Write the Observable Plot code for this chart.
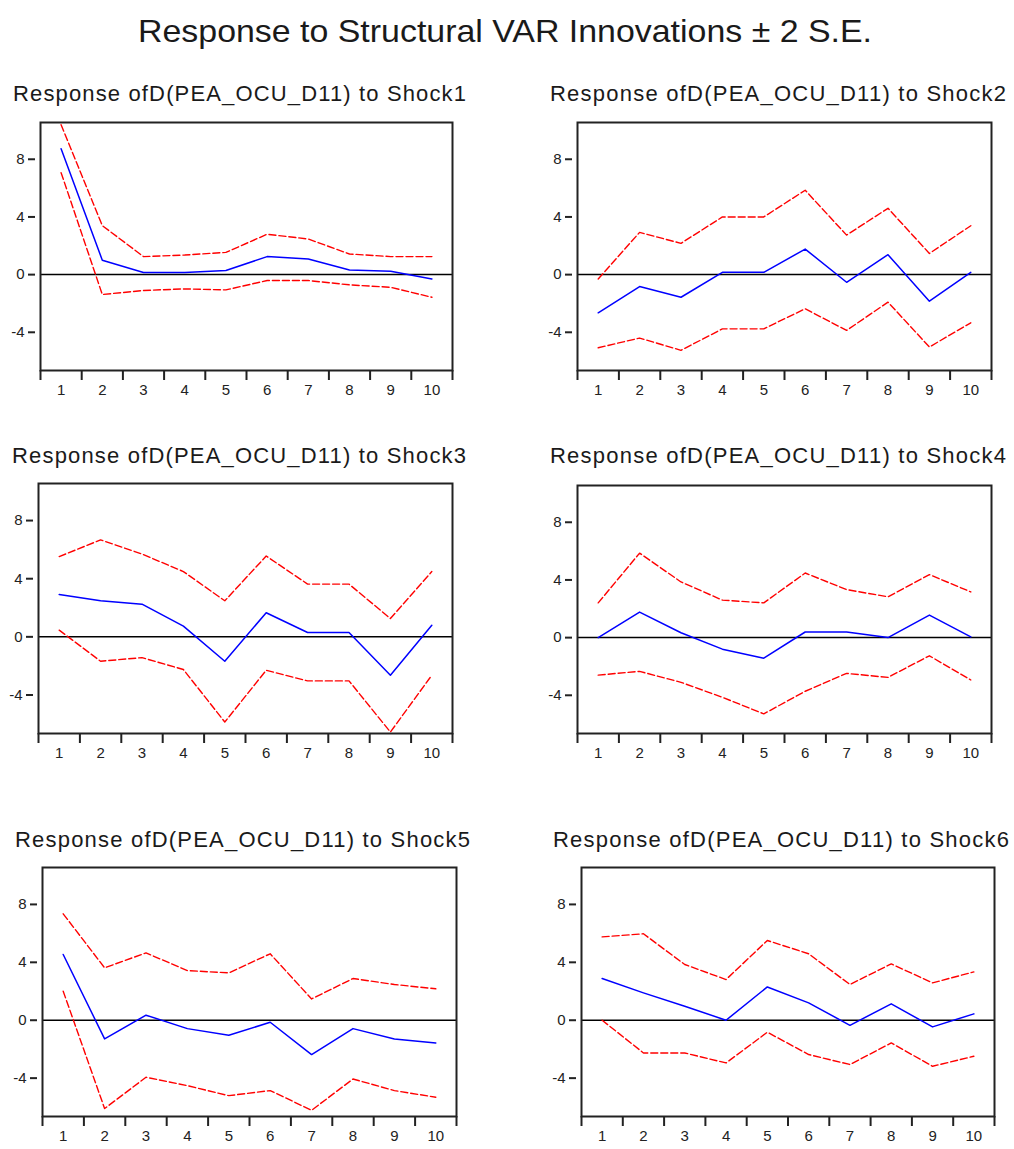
<!DOCTYPE html>
<html>
<head>
<meta charset="utf-8">
<script src="https://cdn.jsdelivr.net/npm/d3@7"></script>
<script src="https://cdn.jsdelivr.net/npm/@observablehq/plot@0.6"></script>
<style>
  html, body { margin: 0; padding: 0; background: #fff; }
  #chart { position: relative; width: 1014px; height: 1149px; background: #fff; overflow: hidden; }
  #chart .panel { position: absolute; }
  #chart svg.panel text { font-size: 15px !important; font-family: 'Liberation Sans', Arial, sans-serif; }
  #titles { position: absolute; left: 0; top: 0; pointer-events: none; }
</style>
</head>
<body>
<div id="chart"></div>
<script>
// ---- Data ----
const horizons = [1, 2, 3, 4, 5, 6, 7, 8, 9, 10];
const yTicks = [-4, 0, 4, 8];
const mainTitle = "Response to Structural VAR Innovations \u00b1 2 S.E.";
const panelTitles = [
  "Response ofD(PEA_OCU_D11) to Shock1",
  "Response ofD(PEA_OCU_D11) to Shock2",
  "Response ofD(PEA_OCU_D11) to Shock3",
  "Response ofD(PEA_OCU_D11) to Shock4",
  "Response ofD(PEA_OCU_D11) to Shock5",
  "Response ofD(PEA_OCU_D11) to Shock6"
];

const shock1Resp  = [8.73, 1.00, 0.15, 0.15, 0.28, 1.25, 1.08, 0.32, 0.23, -0.30];
const shock1Upper = [10.4, 3.40, 1.25, 1.36, 1.54, 2.80, 2.47, 1.43, 1.25, 1.25];
const shock1Lower = [7.07, -1.38, -1.10, -0.99, -1.06, -0.41, -0.41, -0.71, -0.88, -1.57];

const shock2Resp  = [-2.65, -0.83, -1.57, 0.16, 0.16, 1.77, -0.53, 1.38, -1.84, 0.16];
const shock2Upper = [-0.30, 2.93, 2.17, 4.00, 4.00, 5.85, 2.74, 4.60, 1.47, 3.39];
const shock2Lower = [-5.07, -4.40, -5.25, -3.76, -3.76, -2.37, -3.87, -1.91, -5.02, -3.34];

const shock3Resp  = [2.92, 2.48, 2.25, 0.74, -1.68, 1.66, 0.30, 0.30, -2.64, 0.80];
const shock3Upper = [5.52, 6.67, 5.70, 4.49, 2.48, 5.56, 3.63, 3.63, 1.26, 4.49];
const shock3Lower = [0.46, -1.68, -1.43, -2.25, -5.86, -2.30, -3.03, -3.03, -6.55, -2.64];

const shock4Resp  = [0.00, 1.77, 0.34, -0.80, -1.43, 0.39, 0.39, 0.00, 1.56, 0.05];
const shock4Upper = [2.41, 5.86, 3.86, 2.60, 2.41, 4.48, 3.33, 2.83, 4.37, 3.17];
const shock4Lower = [-2.60, -2.34, -3.10, -4.14, -5.29, -3.72, -2.48, -2.76, -1.26, -2.94];

const shock5Resp  = [4.54, -1.29, 0.35, -0.58, -1.04, -0.14, -2.37, -0.58, -1.29, -1.57];
const shock5Upper = [7.35, 3.62, 4.65, 3.43, 3.27, 4.59, 1.47, 2.88, 2.47, 2.17];
const shock5Lower = [2.00, -6.10, -3.94, -4.52, -5.21, -4.86, -6.22, -4.06, -4.86, -5.32];

const shock6Resp  = [2.88, 1.89, 0.97, 0.00, 2.30, 1.20, -0.35, 1.13, -0.46, 0.44];
const shock6Upper = [5.76, 5.97, 3.85, 2.81, 5.51, 4.59, 2.47, 3.89, 2.58, 3.34];
const shock6Lower = [0.00, -2.26, -2.26, -2.95, -0.83, -2.37, -3.06, -1.57, -3.18, -2.49];

// ---- Layout ----
const FONT = "'Liberation Sans', Arial, Helvetica, sans-serif";
const panels = [
  {title: panelTitles[0], resp: shock1Resp, upper: shock1Upper, lower: shock1Lower,
   left: 0, top: 110, width: 470, height: 300, mt: 12, mb: 40, ml: 40, mr: 18,
   tx: 13, ty: 101, tl: 453},
  {title: panelTitles[1], resp: shock2Resp, upper: shock2Upper, lower: shock2Lower,
   left: 510, top: 110, width: 504, height: 300, mt: 12, mb: 40, ml: 67, mr: 23,
   tx: 550, ty: 101, tl: 456},
  {title: panelTitles[2], resp: shock3Resp, upper: shock3Upper, lower: shock3Lower,
   left: 0, top: 470, width: 470, height: 300, mt: 13, mb: 37, ml: 38, mr: 18,
   tx: 12, ty: 463, tl: 454},
  {title: panelTitles[3], resp: shock4Resp, upper: shock4Upper, lower: shock4Lower,
   left: 510, top: 470, width: 504, height: 300, mt: 15, mb: 37, ml: 67, mr: 23,
   tx: 550, ty: 463, tl: 456},
  {title: panelTitles[4], resp: shock5Resp, upper: shock5Upper, lower: shock5Lower,
   left: 0, top: 855, width: 470, height: 294, mt: 12, mb: 33, ml: 42, mr: 14,
   tx: 15, ty: 847, tl: 455},
  {title: panelTitles[5], resp: shock6Resp, upper: shock6Upper, lower: shock6Lower,
   left: 510, top: 855, width: 504, height: 294, mt: 12, mb: 33, ml: 71, mr: 20,
   tx: 553, ty: 847, tl: 456}
];

const boundaries = [horizons[0] - 0.5, ...horizons.map(h => h + 0.5)];
const chart = document.getElementById("chart");

for (const p of panels) {
  const toRows = arr => horizons.map((h, i) => ({h, v: arr[i]}));
  const plot = Plot.plot({
    width: p.width,
    height: p.height,
    marginTop: p.mt,
    marginBottom: p.mb,
    marginLeft: p.ml,
    marginRight: p.mr,
    x: {domain: [boundaries[0], boundaries[boundaries.length - 1]], axis: null},
    y: {domain: [-6.65, 10.55], axis: null},
    style: {fontFamily: FONT, fontSize: "15px", color: "#222", background: "transparent", overflow: "visible"},
    marks: [
      Plot.ruleY([0], {stroke: "#000", strokeWidth: 1.5}),
      Plot.line(toRows(p.upper), {x: "h", y: "v", stroke: "#ff0000", strokeWidth: 1.4, strokeDasharray: "7,3"}),
      Plot.line(toRows(p.lower), {x: "h", y: "v", stroke: "#ff0000", strokeWidth: 1.4, strokeDasharray: "7,3"}),
      Plot.line(toRows(p.resp), {x: "h", y: "v", stroke: "#0000ff", strokeWidth: 1.5}),
      Plot.frame({stroke: "#222", strokeWidth: 2}),
      Plot.axisY({ticks: yTicks, tickSize: 7, dx: -5, tickFormat: () => "", stroke: "#222", strokeWidth: 2, label: null}),
      Plot.axisX({ticks: boundaries, tickSize: 10, tickFormat: () => "", stroke: "#222", strokeWidth: 2, label: null}),
      Plot.text(yTicks, {y: d => d, frameAnchor: "left", dx: -16, textAnchor: "end", fontSize: 15, fill: "#222", text: d => String(d)}),
      Plot.text(horizons, {x: d => d, frameAnchor: "bottom", dy: 24, fontSize: 15, fill: "#222", text: d => String(d)})
    ]
  });
  plot.classList.add("panel");
  plot.style.left = p.left + "px";
  plot.style.top = p.top + "px";
  chart.appendChild(plot);
}

// ---- Titles overlay ----
const svg = d3.select(chart).append("svg")
  .attr("id", "titles")
  .attr("width", 1014)
  .attr("height", 1149)
  .style("font-family", FONT);

svg.append("text")
  .attr("x", 138).attr("y", 42)
  .attr("font-size", 32)
  .attr("fill", "#1a1a1a")
  .attr("textLength", 734)
  .attr("lengthAdjust", "spacingAndGlyphs")
  .text(mainTitle);

for (const p of panels) {
  svg.append("text")
    .attr("x", p.tx).attr("y", p.ty)
    .attr("font-size", 22)
    .attr("fill", "#1a1a1a")
    .attr("textLength", p.tl)
    .attr("lengthAdjust", "spacing")
    .text(p.title);
}
</script>
</body>
</html>
